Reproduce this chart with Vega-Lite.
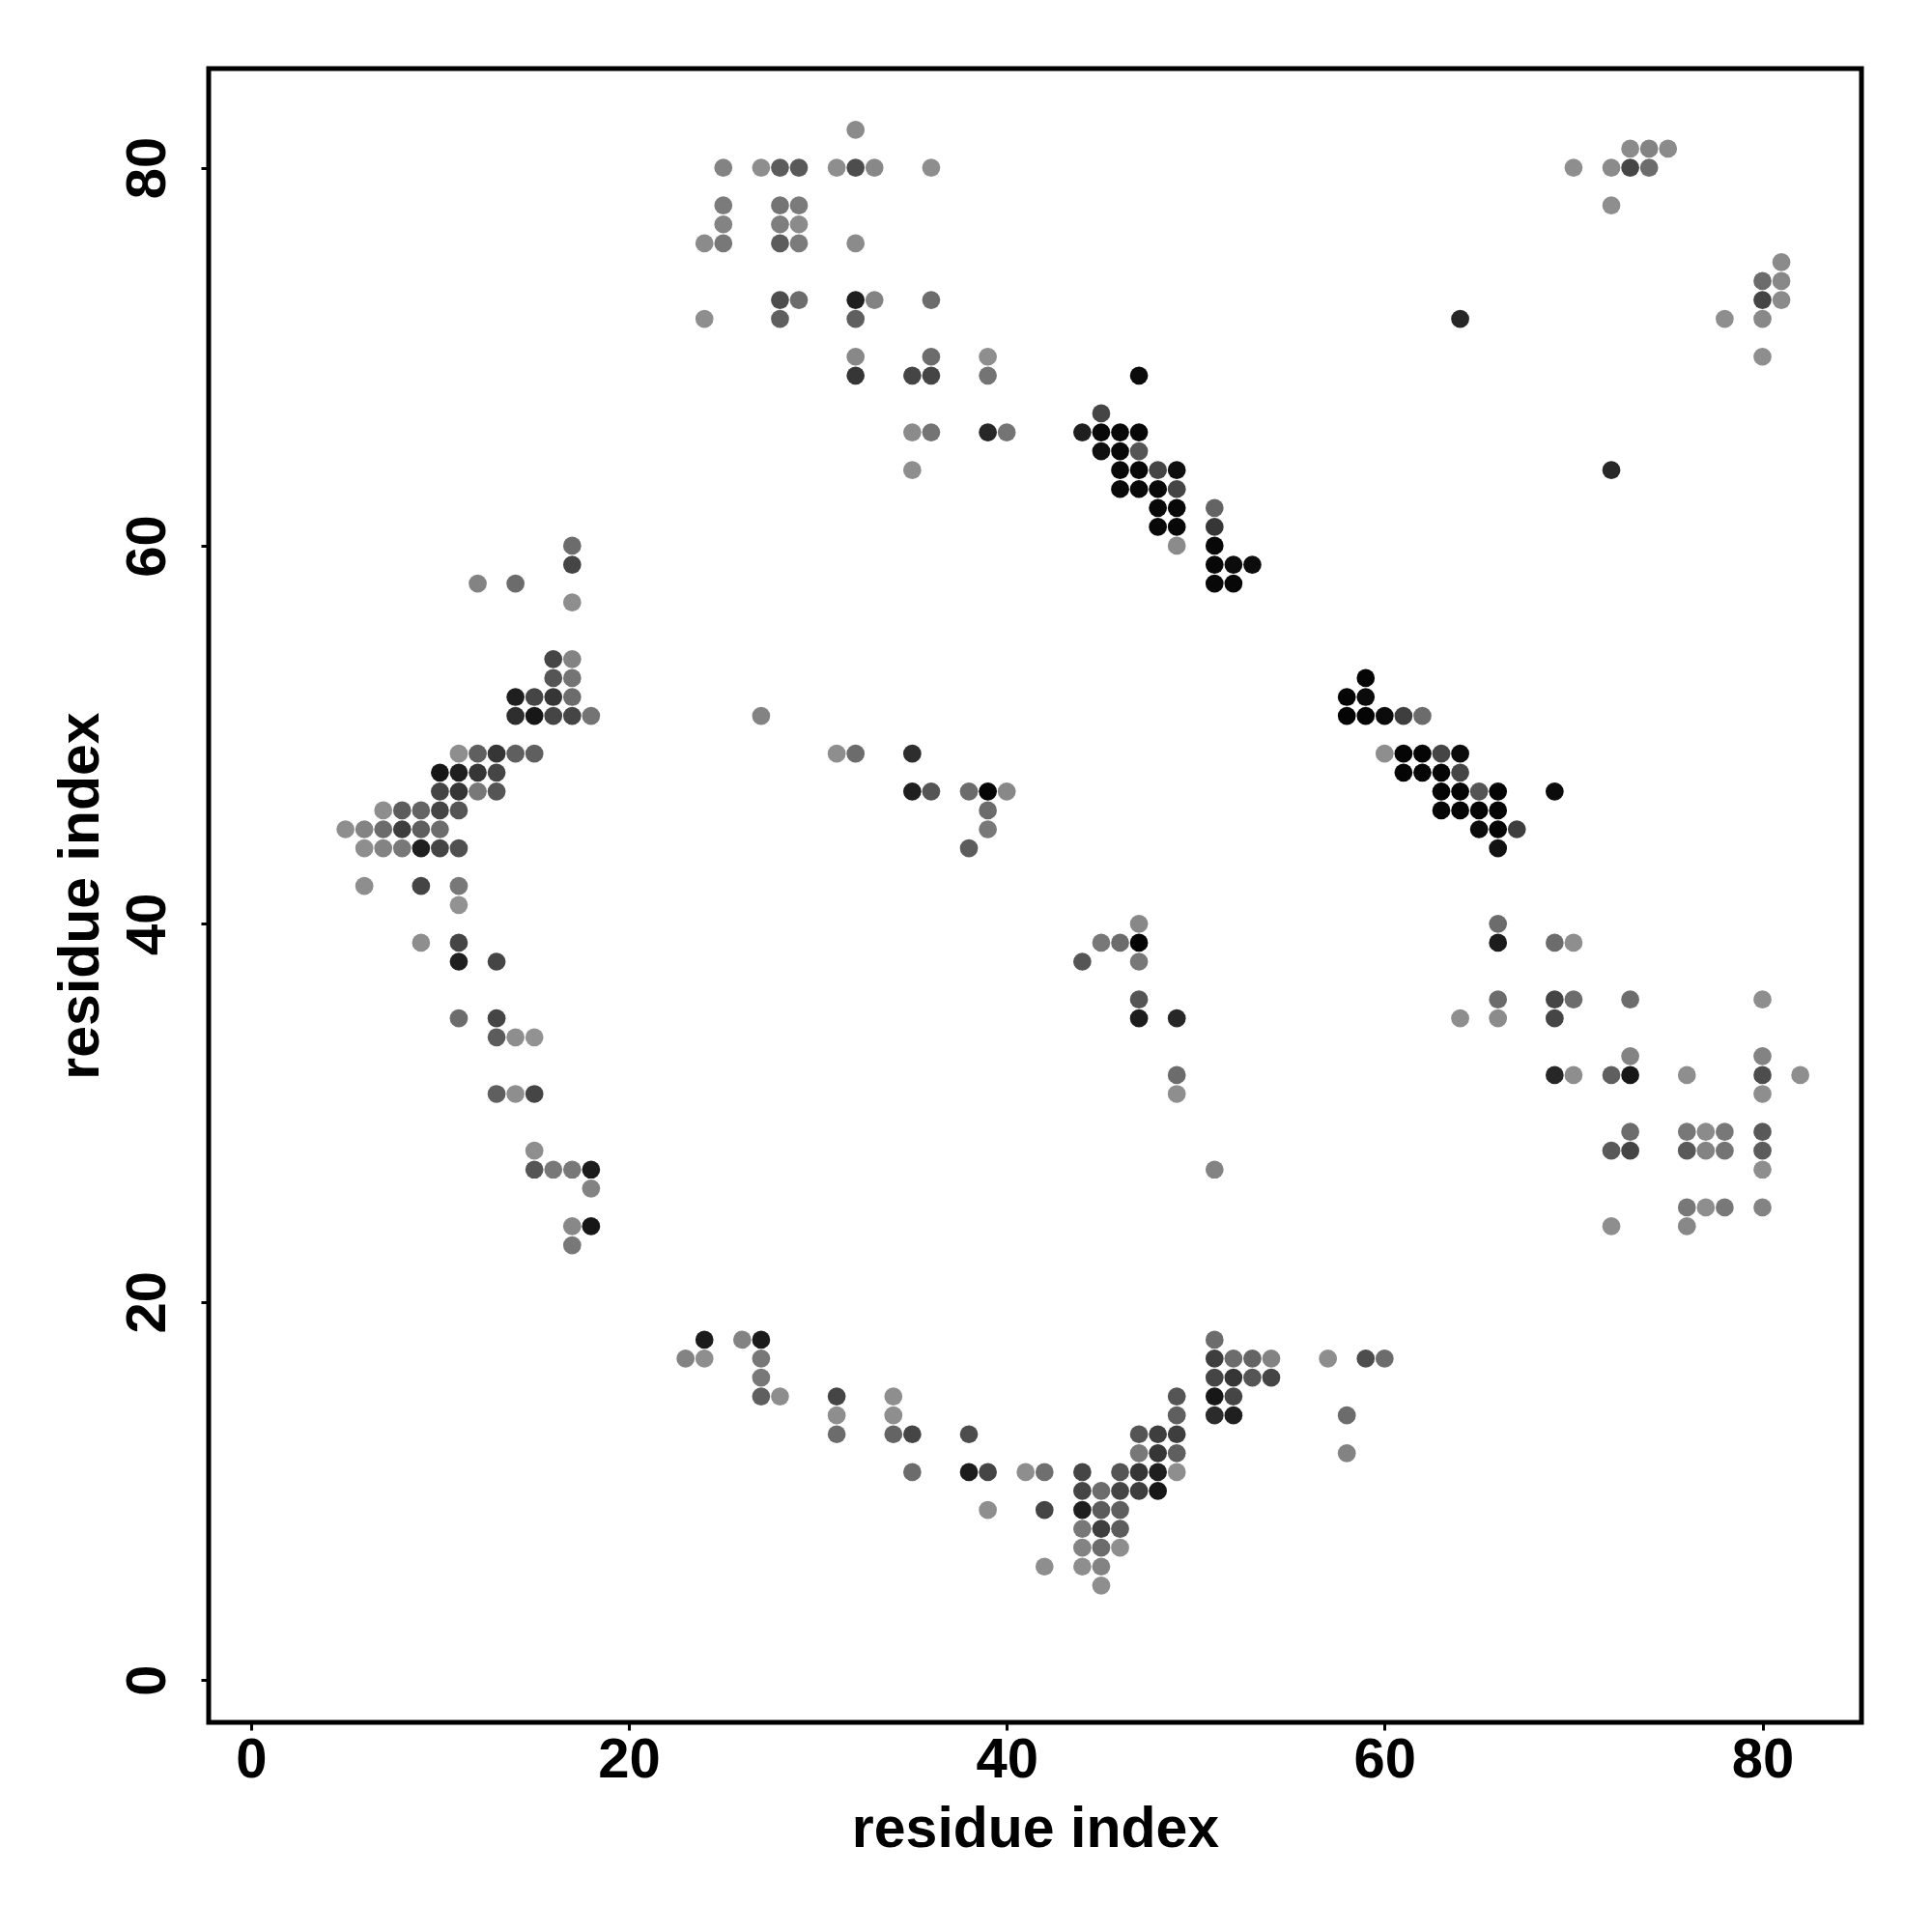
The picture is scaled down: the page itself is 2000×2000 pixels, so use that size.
{
  "$schema": "https://vega.github.io/schema/vega-lite/v6.json",
  "autosize": "none",
  "padding": {"left": 216, "top": 71, "right": 73, "bottom": 217},
  "width": 1711,
  "height": 1712,
  "background": "white",
  "config": {
    "view": {"stroke": "black", "strokeWidth": 5},
    "axis": {
      "grid": false,
      "domain": false,
      "tickColor": "black",
      "tickWidth": 3,
      "tickSize": 8,
      "labelFont": "Liberation Sans",
      "labelFontWeight": "bold",
      "labelFontSize": 58,
      "labelColor": "black",
      "titleFont": "Liberation Sans",
      "titleFontWeight": "bold",
      "titleFontSize": 59,
      "titleColor": "black"
    }
  },
  "data": {"values": [
    {"i":32,"j":82,"p":0.1},{"i":25,"j":80,"p":0.15},{"i":27,"j":80,"p":0.08},{"i":28,"j":80,"p":0.4},{"i":29,"j":80,"p":0.42},{"i":31,"j":80,"p":0.08},{"i":32,"j":80,"p":0.5},{"i":33,"j":80,"p":0.12},{"i":36,"j":80,"p":0.08},
    {"i":25,"j":78,"p":0.2},{"i":28,"j":78,"p":0.25},{"i":29,"j":78,"p":0.2},{"i":25,"j":77,"p":0.15},{"i":28,"j":77,"p":0.18},{"i":29,"j":77,"p":0.1},
    {"i":24,"j":76,"p":0.1},{"i":25,"j":76,"p":0.22},{"i":28,"j":76,"p":0.4},{"i":29,"j":76,"p":0.2},{"i":32,"j":76,"p":0.1},
    {"i":28,"j":73,"p":0.5},{"i":29,"j":73,"p":0.3},{"i":32,"j":73,"p":0.8},{"i":33,"j":73,"p":0.15},{"i":36,"j":73,"p":0.3},
    {"i":24,"j":72,"p":0.08},{"i":28,"j":72,"p":0.38},{"i":32,"j":72,"p":0.38},
    {"i":32,"j":70,"p":0.12},{"i":36,"j":70,"p":0.3},{"i":39,"j":70,"p":0.08},
    {"i":32,"j":69,"p":0.65},{"i":35,"j":69,"p":0.55},{"i":36,"j":69,"p":0.55},{"i":39,"j":69,"p":0.25},
    {"i":35,"j":66,"p":0.1},{"i":36,"j":66,"p":0.25},{"i":39,"j":66,"p":0.75},{"i":40,"j":66,"p":0.25},{"i":35,"j":64,"p":0.08},
    {"i":47,"j":69,"p":0.93},{"i":45,"j":67,"p":0.55},{"i":44,"j":66,"p":0.8},{"i":45,"j":66,"p":0.95},{"i":46,"j":66,"p":0.95},{"i":47,"j":66,"p":0.95},
    {"i":45,"j":65,"p":0.9},{"i":46,"j":65,"p":0.95},{"i":47,"j":65,"p":0.45},
    {"i":46,"j":64,"p":0.95},{"i":47,"j":64,"p":0.95},{"i":48,"j":64,"p":0.55},{"i":49,"j":64,"p":0.9},
    {"i":46,"j":63,"p":0.95},{"i":47,"j":63,"p":0.95},{"i":48,"j":63,"p":0.95},{"i":49,"j":63,"p":0.55},
    {"i":48,"j":62,"p":0.95},{"i":49,"j":62,"p":0.95},{"i":51,"j":62,"p":0.35},
    {"i":48,"j":61,"p":0.95},{"i":49,"j":61,"p":0.95},{"i":51,"j":61,"p":0.65},
    {"i":49,"j":60,"p":0.1},{"i":51,"j":60,"p":0.95},{"i":51,"j":59,"p":0.95},{"i":52,"j":59,"p":0.92},{"i":53,"j":59,"p":0.92},{"i":51,"j":58,"p":0.95},{"i":52,"j":58,"p":0.95},
    {"i":73,"j":81,"p":0.1},{"i":74,"j":81,"p":0.15},{"i":75,"j":81,"p":0.1},
    {"i":70,"j":80,"p":0.08},{"i":72,"j":80,"p":0.1},{"i":73,"j":80,"p":0.55},{"i":74,"j":80,"p":0.3},
    {"i":72,"j":78,"p":0.08},{"i":81,"j":75,"p":0.1},{"i":80,"j":74,"p":0.3},{"i":81,"j":74,"p":0.12},{"i":80,"j":73,"p":0.55},{"i":81,"j":73,"p":0.1},
    {"i":64,"j":72,"p":0.75},{"i":78,"j":72,"p":0.08},{"i":80,"j":72,"p":0.12},{"i":80,"j":70,"p":0.08},{"i":72,"j":64,"p":0.75},
    {"i":17,"j":60,"p":0.3},{"i":17,"j":59,"p":0.55},{"i":12,"j":58,"p":0.15},{"i":14,"j":58,"p":0.3},{"i":17,"j":57,"p":0.08},
    {"i":16,"j":54,"p":0.55},{"i":17,"j":54,"p":0.15},{"i":16,"j":53,"p":0.45},{"i":17,"j":53,"p":0.25},
    {"i":14,"j":52,"p":0.8},{"i":15,"j":52,"p":0.55},{"i":16,"j":52,"p":0.65},{"i":17,"j":52,"p":0.3},
    {"i":14,"j":51,"p":0.7},{"i":15,"j":51,"p":0.85},{"i":16,"j":51,"p":0.55},{"i":17,"j":51,"p":0.55},{"i":18,"j":51,"p":0.25},
    {"i":11,"j":49,"p":0.08},{"i":12,"j":49,"p":0.38},{"i":13,"j":49,"p":0.65},{"i":14,"j":49,"p":0.38},{"i":15,"j":49,"p":0.38},
    {"i":10,"j":48,"p":0.85},{"i":11,"j":48,"p":0.8},{"i":12,"j":48,"p":0.65},{"i":13,"j":48,"p":0.55},
    {"i":10,"j":47,"p":0.55},{"i":11,"j":47,"p":0.65},{"i":12,"j":47,"p":0.22},{"i":13,"j":47,"p":0.45},
    {"i":7,"j":46,"p":0.08},{"i":8,"j":46,"p":0.4},{"i":9,"j":46,"p":0.35},{"i":10,"j":46,"p":0.55},{"i":11,"j":46,"p":0.45},
    {"i":5,"j":45,"p":0.08},{"i":6,"j":45,"p":0.15},{"i":7,"j":45,"p":0.3},{"i":8,"j":45,"p":0.6},{"i":9,"j":45,"p":0.38},{"i":10,"j":45,"p":0.3},
    {"i":6,"j":44,"p":0.08},{"i":7,"j":44,"p":0.15},{"i":8,"j":44,"p":0.22},{"i":9,"j":44,"p":0.8},{"i":10,"j":44,"p":0.55},{"i":11,"j":44,"p":0.48},
    {"i":6,"j":42,"p":0.08},{"i":9,"j":42,"p":0.55},{"i":11,"j":42,"p":0.22},{"i":11,"j":41,"p":0.05},
    {"i":9,"j":39,"p":0.08},{"i":11,"j":39,"p":0.55},{"i":11,"j":38,"p":0.8},{"i":13,"j":38,"p":0.55},
    {"i":11,"j":35,"p":0.3},{"i":13,"j":35,"p":0.55},{"i":13,"j":34,"p":0.4},{"i":14,"j":34,"p":0.08},{"i":15,"j":34,"p":0.05},
    {"i":13,"j":31,"p":0.38},{"i":14,"j":31,"p":0.08},{"i":15,"j":31,"p":0.55},{"i":15,"j":28,"p":0.08},
    {"i":15,"j":27,"p":0.45},{"i":16,"j":27,"p":0.22},{"i":17,"j":27,"p":0.22},{"i":18,"j":27,"p":0.82},{"i":18,"j":26,"p":0.15},
    {"i":17,"j":24,"p":0.12},{"i":18,"j":24,"p":0.85},{"i":17,"j":23,"p":0.22},
    {"i":27,"j":51,"p":0.15},{"i":31,"j":49,"p":0.08},{"i":32,"j":49,"p":0.3},{"i":35,"j":49,"p":0.7},
    {"i":35,"j":47,"p":0.8},{"i":36,"j":47,"p":0.45},{"i":38,"j":47,"p":0.3},{"i":39,"j":47,"p":0.97},{"i":40,"j":47,"p":0.12},
    {"i":39,"j":46,"p":0.3},{"i":39,"j":45,"p":0.22},{"i":38,"j":44,"p":0.4},
    {"i":59,"j":53,"p":0.97},{"i":58,"j":52,"p":0.97},{"i":59,"j":52,"p":0.93},
    {"i":58,"j":51,"p":0.97},{"i":59,"j":51,"p":0.97},{"i":60,"j":51,"p":0.93},{"i":61,"j":51,"p":0.6},{"i":62,"j":51,"p":0.3},
    {"i":60,"j":49,"p":0.08},{"i":61,"j":49,"p":0.97},{"i":62,"j":49,"p":0.97},{"i":63,"j":49,"p":0.55},{"i":64,"j":49,"p":0.93},
    {"i":61,"j":48,"p":0.97},{"i":62,"j":48,"p":0.97},{"i":63,"j":48,"p":0.97},{"i":64,"j":48,"p":0.55},
    {"i":63,"j":47,"p":0.97},{"i":64,"j":47,"p":0.97},{"i":65,"j":47,"p":0.45},{"i":66,"j":47,"p":0.97},{"i":69,"j":47,"p":0.93},
    {"i":63,"j":46,"p":0.97},{"i":64,"j":46,"p":0.97},{"i":65,"j":46,"p":0.97},{"i":66,"j":46,"p":0.97},
    {"i":65,"j":45,"p":0.93},{"i":66,"j":45,"p":0.97},{"i":67,"j":45,"p":0.6},{"i":66,"j":44,"p":0.88},
    {"i":47,"j":40,"p":0.12},{"i":45,"j":39,"p":0.22},{"i":46,"j":39,"p":0.3},{"i":47,"j":39,"p":0.98},
    {"i":44,"j":38,"p":0.45},{"i":47,"j":38,"p":0.22},{"i":47,"j":36,"p":0.45},{"i":47,"j":35,"p":0.82},{"i":49,"j":35,"p":0.75},
    {"i":49,"j":32,"p":0.3},{"i":49,"j":31,"p":0.08},{"i":51,"j":27,"p":0.15},
    {"i":66,"j":40,"p":0.3},{"i":66,"j":39,"p":0.82},{"i":69,"j":39,"p":0.3},{"i":70,"j":39,"p":0.08},
    {"i":66,"j":36,"p":0.3},{"i":69,"j":36,"p":0.55},{"i":70,"j":36,"p":0.3},{"i":73,"j":36,"p":0.3},{"i":80,"j":36,"p":0.08},
    {"i":64,"j":35,"p":0.08},{"i":66,"j":35,"p":0.1},{"i":69,"j":35,"p":0.55},
    {"i":73,"j":33,"p":0.15},{"i":80,"j":33,"p":0.15},
    {"i":69,"j":32,"p":0.75},{"i":70,"j":32,"p":0.08},{"i":72,"j":32,"p":0.38},{"i":73,"j":32,"p":0.85},{"i":76,"j":32,"p":0.08},{"i":80,"j":32,"p":0.5},{"i":82,"j":32,"p":0.08},
    {"i":80,"j":31,"p":0.08},
    {"i":73,"j":29,"p":0.3},{"i":76,"j":29,"p":0.22},{"i":77,"j":29,"p":0.1},{"i":78,"j":29,"p":0.22},{"i":80,"j":29,"p":0.42},
    {"i":72,"j":28,"p":0.42},{"i":73,"j":28,"p":0.55},{"i":76,"j":28,"p":0.42},{"i":77,"j":28,"p":0.15},{"i":78,"j":28,"p":0.25},{"i":80,"j":28,"p":0.4},
    {"i":80,"j":27,"p":0.08},
    {"i":76,"j":25,"p":0.22},{"i":77,"j":25,"p":0.08},{"i":78,"j":25,"p":0.22},{"i":80,"j":25,"p":0.15},
    {"i":72,"j":24,"p":0.08},{"i":76,"j":24,"p":0.12},
    {"i":24,"j":18,"p":0.82},{"i":26,"j":18,"p":0.15},{"i":27,"j":18,"p":0.82},
    {"i":23,"j":17,"p":0.15},{"i":24,"j":17,"p":0.08},{"i":27,"j":17,"p":0.22},{"i":27,"j":16,"p":0.22},
    {"i":27,"j":15,"p":0.38},{"i":28,"j":15,"p":0.08},{"i":31,"j":15,"p":0.55},{"i":34,"j":15,"p":0.08},
    {"i":31,"j":14,"p":0.08},{"i":34,"j":14,"p":0.08},
    {"i":31,"j":13,"p":0.3},{"i":34,"j":13,"p":0.35},{"i":35,"j":13,"p":0.55},{"i":38,"j":13,"p":0.5},
    {"i":35,"j":11,"p":0.3},{"i":38,"j":11,"p":0.82},{"i":39,"j":11,"p":0.55},{"i":41,"j":11,"p":0.08},{"i":42,"j":11,"p":0.28},
    {"i":39,"j":9,"p":0.08},{"i":42,"j":9,"p":0.55},{"i":42,"j":6,"p":0.08},
    {"i":51,"j":18,"p":0.3},
    {"i":51,"j":17,"p":0.6},{"i":52,"j":17,"p":0.3},{"i":53,"j":17,"p":0.35},{"i":54,"j":17,"p":0.15},{"i":57,"j":17,"p":0.08},{"i":59,"j":17,"p":0.5},{"i":60,"j":17,"p":0.3},
    {"i":51,"j":16,"p":0.55},{"i":52,"j":16,"p":0.65},{"i":53,"j":16,"p":0.45},{"i":54,"j":16,"p":0.55},
    {"i":49,"j":15,"p":0.45},{"i":51,"j":15,"p":0.85},{"i":52,"j":15,"p":0.55},
    {"i":49,"j":14,"p":0.38},{"i":51,"j":14,"p":0.72},{"i":52,"j":14,"p":0.8},{"i":58,"j":14,"p":0.3},
    {"i":47,"j":13,"p":0.45},{"i":48,"j":13,"p":0.6},{"i":49,"j":13,"p":0.6},
    {"i":47,"j":12,"p":0.22},{"i":48,"j":12,"p":0.65},{"i":49,"j":12,"p":0.38},{"i":58,"j":12,"p":0.15},
    {"i":44,"j":11,"p":0.55},{"i":46,"j":11,"p":0.45},{"i":47,"j":11,"p":0.65},{"i":48,"j":11,"p":0.8},{"i":49,"j":11,"p":0.08},
    {"i":44,"j":10,"p":0.55},{"i":45,"j":10,"p":0.3},{"i":46,"j":10,"p":0.55},{"i":47,"j":10,"p":0.6},{"i":48,"j":10,"p":0.85},
    {"i":44,"j":9,"p":0.8},{"i":45,"j":9,"p":0.4},{"i":46,"j":9,"p":0.38},
    {"i":44,"j":8,"p":0.22},{"i":45,"j":8,"p":0.6},{"i":46,"j":8,"p":0.4},
    {"i":44,"j":7,"p":0.15},{"i":45,"j":7,"p":0.3},{"i":46,"j":7,"p":0.08},
    {"i":44,"j":6,"p":0.08},{"i":45,"j":6,"p":0.15},{"i":45,"j":5,"p":0.08}
  ]},
  "mark": {"type": "circle", "size": 350, "opacity": 1},
  "encoding": {
    "x": {
      "field": "i", "type": "quantitative",
      "scale": {"domain": [-2.24, 85.24], "nice": false, "zero": false},
      "axis": {"values": [0, 20, 40, 60, 80], "title": "residue index", "labelPadding": 2, "titleX": 855.5, "titleY": 128, "titleAlign": "center", "titleBaseline": "alphabetic"}
    },
    "y": {
      "field": "j", "type": "quantitative",
      "scale": {"domain": [-2.24, 85.24], "nice": false, "zero": false},
      "axis": {"values": [0, 20, 40, 60, 80], "title": "residue index", "labelAngle": -90, "labelAlign": "center", "labelBaseline": "bottom", "labelPadding": 26, "titleX": -115, "titleY": 856, "titleAngle": -90, "titleAlign": "center", "titleBaseline": "alphabetic"}
    },
    "color": {
      "field": "p", "type": "quantitative",
      "scale": {"domain": [0, 1], "range": ["#9a9a9a", "#000000"], "interpolate": "rgb"},
      "legend": null
    }
  }
}
